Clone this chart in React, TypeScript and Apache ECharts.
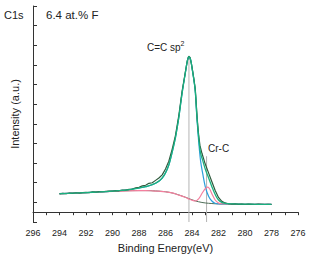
import React, { useEffect, useRef } from "react";
import * as echarts from "echarts";

// Binding energies (eV) and intensities (a.u., tick units)
const rawE = [294.0, 293.75, 293.5, 293.25, 293.0, 292.75, 292.5, 292.25, 292.0, 291.75, 291.5, 291.25, 291.0, 290.75, 290.5, 290.25, 290.0, 289.75, 289.5, 289.25, 289.0, 288.75, 288.5, 288.25, 288.0, 287.75, 287.5, 287.25, 287.0, 286.75, 286.5, 286.25, 286.0, 285.75, 285.5, 285.25, 285.0, 284.75, 284.5, 284.35, 284.25, 284.15, 284.0, 283.85, 283.75, 283.6, 283.5, 283.4, 283.25, 283.0, 282.75, 282.5, 282.25, 282.0, 281.75, 281.5, 281.25, 281.0, 280.75, 280.5, 280.25, 280.0, 279.75, 279.5, 279.25, 279.0, 278.75, 278.5, 278.25, 278.0];
const rawI = [0.93, 0.96, 0.94, 0.97, 0.96, 0.99, 0.97, 1.0, 1.01, 0.99, 1.03, 1.02, 1.05, 1.04, 1.06, 1.08, 1.07, 1.1, 1.09, 1.13, 1.12, 1.16, 1.18, 1.24, 1.27, 1.34, 1.37, 1.47, 1.5, 1.62, 1.74, 1.9, 2.2, 2.6, 3.2, 3.9, 4.9, 6.15, 7.15, 7.72, 7.95, 7.88, 7.4, 6.75, 6.25, 4.7, 3.95, 3.4, 3.0, 2.45, 2.0, 1.55, 1.1, 0.75, 0.55, 0.47, 0.43, 0.41, 0.42, 0.4, 0.41, 0.39, 0.41, 0.4, 0.39, 0.41, 0.4, 0.39, 0.4, 0.39];

const envE = [294, 293, 292, 291, 290, 289.5, 289, 288.5, 288, 287.5, 287, 286.5, 286.25, 286, 285.75, 285.5, 285.25, 285, 284.75, 284.5, 284.35, 284.23, 284.1, 284, 283.85, 283.75, 283.65, 283.55, 283.45, 283.35, 283.2, 283, 282.75, 282.5, 282.25, 282, 281.75, 281.5, 281.25, 281, 280, 279, 278];
const envI = [0.94, 0.97, 1.0, 1.03, 1.07, 1.1, 1.12, 1.17, 1.23, 1.3, 1.4, 1.58, 1.74, 2.0, 2.4, 3.05, 3.8, 4.8, 6.05, 7.1, 7.7, 7.92, 7.75, 7.35, 6.7, 6.15, 5.1, 4.2, 3.5, 3.0, 2.65, 2.2, 1.75, 1.3, 0.9, 0.62, 0.5, 0.45, 0.43, 0.42, 0.41, 0.4, 0.4];

const ccE = [294, 293, 292, 291, 290, 289.5, 289, 288.5, 288, 287.5, 287, 286.5, 286.25, 286, 285.75, 285.5, 285.25, 285, 284.75, 284.5, 284.35, 284.23, 284.1, 284, 283.85, 283.75, 283.65, 283.55, 283.45, 283.35, 283.2, 283, 282.85, 282.7, 282.5, 282.3, 282.1, 281.8, 281, 280, 279, 278];
const ccI = [0.94, 0.97, 1.0, 1.03, 1.07, 1.1, 1.12, 1.17, 1.23, 1.3, 1.4, 1.58, 1.74, 2.0, 2.4, 3.05, 3.8, 4.8, 6.05, 7.1, 7.7, 7.92, 7.75, 7.35, 6.7, 6.12, 5.0, 4.05, 3.25, 2.6, 2.0, 1.3, 0.98, 0.75, 0.57, 0.47, 0.43, 0.42, 0.41, 0.4, 0.4, 0.4];

const crcE = [294, 293, 292, 291, 290, 289, 288, 287.5, 287, 286.5, 286, 285.5, 285, 284.5, 284.25, 284, 283.75, 283.5, 283.25, 283, 282.85, 282.7, 282.5, 282.25, 282, 281.75, 281.5, 281, 280, 279, 278];
const crcI = [0.94, 0.97, 1.0, 1.03, 1.06, 1.09, 1.1, 1.1, 1.09, 1.07, 1.04, 0.98, 0.87, 0.76, 0.68, 0.61, 0.57, 0.68, 0.95, 1.2, 1.28, 1.22, 0.94, 0.62, 0.47, 0.43, 0.42, 0.41, 0.4, 0.4, 0.4];

const bgE = [294, 293, 292, 291, 290, 289, 288, 287.5, 287, 286.5, 286, 285.5, 285, 284.5, 284, 283.5, 283, 282.5, 282, 281, 280, 279, 278];
const bgI = [0.94, 0.97, 1.0, 1.03, 1.06, 1.09, 1.1, 1.1, 1.09, 1.07, 1.04, 0.98, 0.88, 0.76, 0.63, 0.53, 0.47, 0.44, 0.42, 0.41, 0.4, 0.4, 0.4];

const peakE = [284.23, 282.9];
const peakTop = [7.92, 2.85];
const axisMinI = -0.5;

const zip = (xs: number[], ys: number[]) => xs.map((x, i) => [x, ys[i]]);

const FONT = "'Liberation Sans', Arial, sans-serif";

export default function App() {
  const ref = useRef<HTMLDivElement>(null);
  useEffect(() => {
    if (!ref.current) return;
    const chart = echarts.init(ref.current, null, { renderer: "svg" });
    const lineSeries = (name: string, data: number[][], color: string, width: number, smooth: boolean | number, z: number) => ({
      name,
      type: "line",
      data,
      showSymbol: false,
      symbol: "none",
      smooth,
      lineStyle: { color, width },
      z,
    });
    chart.setOption({
      animation: false,
      textStyle: { fontFamily: FONT },
      grid: { left: 33, right: 11, top: 6, bottom: 37, outerBoundsMode: "none", containLabel: false },
      xAxis: {
        type: "value",
        inverse: true,
        min: 276,
        max: 296,
        interval: 2,
        name: "Binding Energy(eV)",
        nameLocation: "middle",
        nameGap: 20,
        nameTextStyle: { fontSize: 11, color: "#222", fontFamily: FONT },
        axisLine: { lineStyle: { color: "#333", width: 1 } },
        axisTick: { show: true, inside: false, length: 3, lineStyle: { color: "#333" } },
        minorTick: { show: true, splitNumber: 2, length: 3, lineStyle: { color: "#333" } },
        axisLabel: { fontSize: 9, color: "#222", margin: 6, fontFamily: FONT },
        splitLine: { show: false },
      },
      yAxis: {
        type: "value",
        min: axisMinI,
        max: 10.5,
        interval: 1,
        name: "Intensity (a.u.)",
        nameLocation: "middle",
        nameRotate: 90,
        nameGap: 13,
        nameTextStyle: { fontSize: 11, color: "#222", fontFamily: FONT },
        axisLine: { show: true, lineStyle: { color: "#333", width: 1 } },
        axisTick: { show: true, inside: true, length: 4, lineStyle: { color: "#333", width: 1 } },
        axisLabel: { show: true, color: "rgba(0,0,0,0)", fontSize: 1, margin: 0 },
        splitLine: { show: false },
      },
      series: [
        ...peakE.map((e, i) => ({
          type: "line",
          data: [[e, axisMinI], [e, peakTop[i]]],
          showSymbol: false,
          symbol: "none",
          lineStyle: { color: "#b4b4b4", width: 1 },
          z: 1,
        })),
        lineSeries("bg", zip(bgE, bgI), "#4f6e58", 1, 0.4, 2),
        lineSeries("C=C", zip(ccE, ccI), "#2a9fdc", 1.2, 0.4, 3),
        lineSeries("Cr-C", zip(crcE, crcI), "#f47f9e", 1.2, 0.4, 4),
        lineSeries("raw", zip(rawE, rawI), "#2f5a3c", 1.2, false, 5),
        lineSeries("envelope", zip(envE, envI), "#1ab07f", 1.3, 0.4, 6),
      ],
      graphic: [
        { type: "text", left: 4, top: 9, style: { text: "C1s", font: `11px ${FONT}`, fill: "#222" } },
        { type: "text", left: 46, top: 9, style: { text: "6.4 at.% F", font: `11.5px ${FONT}`, fill: "#222" } },
        {
          type: "text",
          left: 147,
          top: 40,
          style: {
            text: "{a|C=C sp}{b|2}",
            rich: {
              a: { fontSize: 10, fontFamily: FONT, fill: "#222", verticalAlign: "bottom", lineHeight: 12 },
              b: { fontSize: 7, fontFamily: FONT, fill: "#222", verticalAlign: "top", lineHeight: 12, padding: [0, 0, 6, 0] },
            },
          },
        },
        { type: "text", left: 208, top: 143, style: { text: "Cr-C", font: `10px ${FONT}`, fill: "#222" } },
      ],
    });
    return () => chart.dispose();
  }, []);
  return <div ref={ref} style={{ position: "absolute", left: 0, top: 0, width: 309, height: 259 }} />;
}
